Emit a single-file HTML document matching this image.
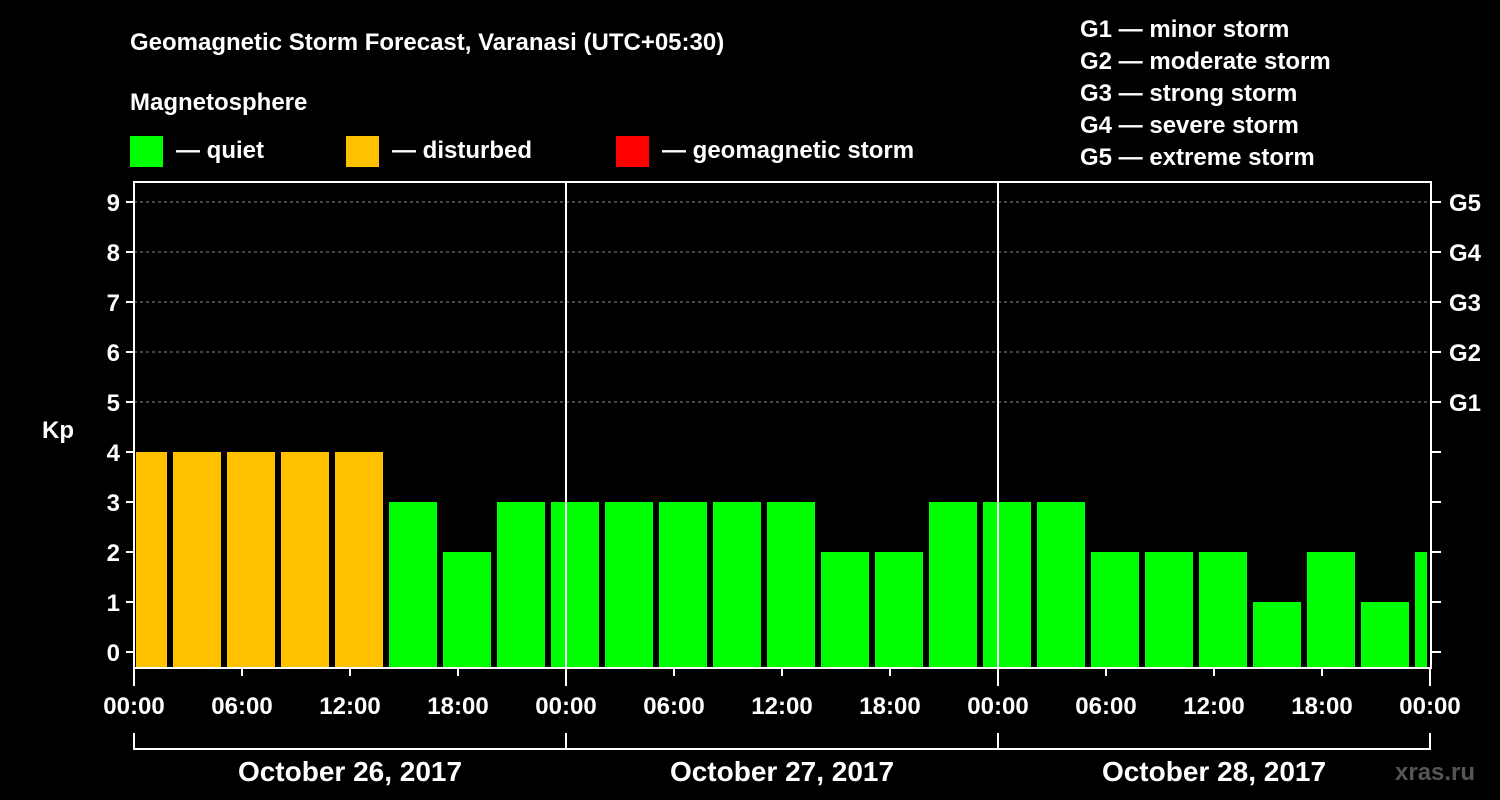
<!DOCTYPE html>
<html><head><meta charset="utf-8"><style>
body{margin:0;background:#000;width:1500px;height:800px;overflow:hidden}
svg{display:block;font-family:"Liberation Sans",Arial,sans-serif;font-weight:bold}
</style></head><body>
<svg id="c" width="1500" height="800">
<text x="130" y="50" fill="#fff" font-size="24">Geomagnetic Storm Forecast, Varanasi (UTC+05:30)</text>
<text x="130" y="110" fill="#fff" font-size="24">Magnetosphere</text>
<rect x="130" y="136" width="33" height="31" fill="#00ff00"/>
<text x="176" y="158" fill="#fff" font-size="24">— quiet</text>
<rect x="346" y="136" width="33" height="31" fill="#ffc000"/>
<text x="392" y="158" fill="#fff" font-size="24">— disturbed</text>
<rect x="616" y="136" width="33" height="31" fill="#ff0000"/>
<text x="662" y="158" fill="#fff" font-size="24">— geomagnetic storm</text>
<g fill="#fff" font-size="24">
<text x="1080" y="37">G1 — minor storm</text>
<text x="1080" y="69">G2 — moderate storm</text>
<text x="1080" y="101">G3 — strong storm</text>
<text x="1080" y="133">G4 — severe storm</text>
<text x="1080" y="165">G5 — extreme storm</text>
</g>
<text x="42" y="438" fill="#fff" font-size="24">Kp</text>
<text x="1395" y="780" fill="#555" font-size="24">xras.ru</text>
<g id="plot"></g>
</svg>
<script>
const kpValues=[4,4,4,4,4,3,2,3,3,3,3,3,3,2,2,3,3,3,2,2,2,1,2,1,2];
const yTicks=[0,1,2,3,4,5,6,7,8,9];
const gLabels=["G1","G2","G3","G4","G5"];
const xTickLabels=["00:00","06:00","12:00","18:00","00:00","06:00","12:00","18:00","00:00","06:00","12:00","18:00","00:00"];
const dayLabels=["October 26, 2017","October 27, 2017","October 28, 2017"];
const NS="http://www.w3.org/2000/svg";
const g=document.getElementById('plot');
const L=134,R=1431,T=182,B=668,HPX=18;
const yS=v=>652-50*v;
const xS=h=>L+h*HPX;
function el(t,a){const e=document.createElementNS(NS,t);for(const k in a)e.setAttribute(k,a[k]);g.appendChild(e);return e;}
// grid
yTicks.forEach(v=>{if(v>=5){const l=el('line',{x1:L,x2:R,y1:yS(v),y2:yS(v),stroke:'#888','stroke-dasharray':'3,3','stroke-width':1});

}});
// bars
kpValues.forEach((v,i)=>{let h0=i===0?0:2+(i-1)*3,h1=2+i*3;if(h1>72)h1=72;
let x0=xS(h0)+(i===0?2:3),x1=Math.min(xS(h1)-3,R-3);
const r=el('rect',{x:x0,y:yS(v),width:x1-x0,height:B-1-yS(v),fill:v>=5?'#ff0000':v>=4?'#ffc000':'#00ff00'});

});
// day separators
[24,48].forEach(h=>{const l=el('line',{x1:xS(h),x2:xS(h),y1:T,y2:B,stroke:'#fff','stroke-width':2});

});
const fr=el('rect',{x:L,y:T,width:R-L,height:B-T,fill:'none',stroke:'#fff','stroke-width':2});


yTicks.forEach(v=>{const y=yS(v);
const t=el('line',{x1:L-8,x2:L,y1:y,y2:y,stroke:'#fff','stroke-width':2});


const r=el('line',{x1:R,x2:R+10,y1:y,y2:y,stroke:'#fff','stroke-width':2});


const tx=el('text',{x:L-14,y:y+9,fill:'#fff','font-size':24,'text-anchor':'end'});tx.textContent=v;


if(v>=5){const gt=el('text',{x:1449,y:y+9,fill:'#fff','font-size':24});gt.textContent=gLabels[v-5];

}});
xTickLabels.forEach((s,i)=>{const x=xS(i*6);
const t=el('line',{x1:x,x2:x,y1:B,y2:B+(i%4===0?18:8),stroke:'#fff','stroke-width':2});


const tx=el('text',{x:x,y:714,fill:'#fff','font-size':24,'text-anchor':'middle'});tx.textContent=s;

});
dayLabels.forEach((s,i)=>{const x0=xS(i*24),x1=xS(i*24+24);
const p=el('path',{d:`M${x0} 733V749H${x1}V733`,fill:'none',stroke:'#fff','stroke-width':2});


const tx=el('text',{x:(x0+x1)/2,y:781,fill:'#fff','font-size':28,'text-anchor':'middle'});tx.textContent=s;

});
</script>
</body></html>
